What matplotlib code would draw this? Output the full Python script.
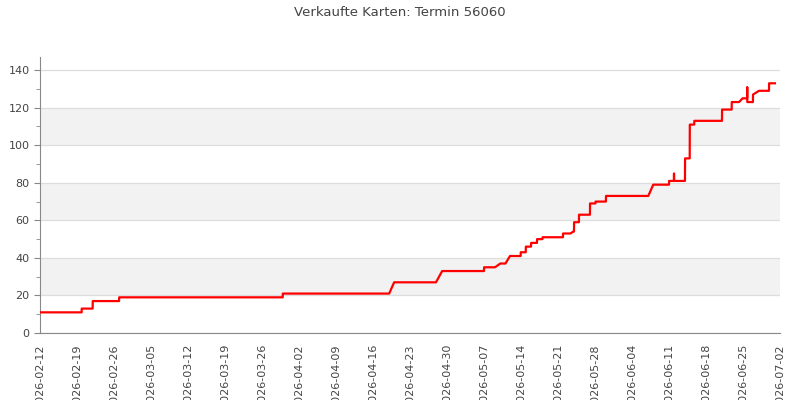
import numpy as np
import pandas as pd
import matplotlib
matplotlib.use("Agg")
import matplotlib.pyplot as plt
import matplotlib.dates as mdates
from matplotlib.ticker import MultipleLocator

TITLE = "Verkaufte Karten: Termin 56060"

# sample times and cumulative tickets sold
TIMES = [
    "2026-02-12 00:00", "2026-02-19 21:00", "2026-02-19 21:30",
    "2026-02-21 23:00", "2026-02-21 23:30", "2026-02-26 23:00",
    "2026-02-26 23:30", "2026-03-29 22:00", "2026-03-29 22:30",
    "2026-04-19 01:30", "2026-04-20 00:00", "2026-04-27 22:00",
    "2026-04-29 02:00", "2026-05-07 00:00", "2026-05-07 00:30",
    "2026-05-09 02:00", "2026-05-10 02:00", "2026-05-11 01:30",
    "2026-05-11 22:00", "2026-05-13 22:30", "2026-05-13 23:00",
    "2026-05-14 21:30", "2026-05-14 22:00", "2026-05-15 21:30",
    "2026-05-15 22:00", "2026-05-17 00:30", "2026-05-17 01:00",
    "2026-05-18 01:30", "2026-05-18 02:00", "2026-05-21 22:30",
    "2026-05-21 23:00", "2026-05-23 08:00", "2026-05-23 21:30",
    "2026-05-24 00:30", "2026-05-24 01:00", "2026-05-24 23:00",
    "2026-05-24 23:30", "2026-05-27 01:00", "2026-05-27 01:30",
    "2026-05-28 02:00", "2026-05-28 02:30", "2026-05-30 01:30",
    "2026-05-30 02:00", "2026-06-07 02:00", "2026-06-08 00:30",
    "2026-06-11 00:00", "2026-06-11 00:30", "2026-06-11 22:30",
    "2026-06-11 22:45", "2026-06-11 23:00", "2026-06-14 00:30",
    "2026-06-14 01:00", "2026-06-14 22:00", "2026-06-14 22:30",
    "2026-06-15 18:30", "2026-06-15 19:00", "2026-06-21 00:30",
    "2026-06-21 01:00", "2026-06-22 20:30", "2026-06-22 21:00",
    "2026-06-24 06:00", "2026-06-24 22:30", "2026-06-25 19:00",
    "2026-06-25 19:15", "2026-06-25 19:30", "2026-06-26 21:00",
    "2026-06-26 21:30", "2026-06-28 00:30", "2026-06-29 22:00",
    "2026-06-29 22:30", "2026-07-01 01:00",
]
SOLD = [
    11, 11, 13,
    13, 17, 17,
    19, 19, 21,
    21, 27, 27,
    33, 33, 35,
    35, 37, 37,
    41, 41, 43,
    43, 46, 46,
    48, 48, 50,
    50, 51, 51,
    53, 53, 54,
    54, 59, 59,
    63, 63, 69,
    69, 70, 70,
    73, 73, 79,
    79, 81, 81,
    85, 81, 81,
    93, 93, 111,
    111, 113, 113,
    119, 119, 123,
    123, 125, 125,
    131, 123, 123,
    127, 129, 129,
    133, 133,
]

Y_TICKS = [0, 20, 40, 60, 80, 100, 120, 140]

times = pd.to_datetime(TIMES)

fig = plt.figure(figsize=(8, 4), dpi=100)
ax = fig.add_axes([0.05, 0.1675, 0.925, 0.69])

# alternating bands
for i, lo in enumerate(Y_TICKS[:-1]):
    if i % 2 == 1:
        ax.axhspan(lo, Y_TICKS[i + 1], color="#f2f2f2", lw=0, zorder=0)
for yv in Y_TICKS:
    ax.axhline(yv, color="#dddddd", lw=0.9, zorder=1)

ax.plot(times, SOLD, color="red", lw=1.6, zorder=3)

ax.set_xlim(pd.Timestamp("2026-02-12"), pd.Timestamp("2026-07-02"))
ax.set_ylim(0, 147)
ax.set_yticks(Y_TICKS)
ax.yaxis.set_minor_locator(MultipleLocator(10))
ax.set_xticks(pd.date_range("2026-02-12", "2026-07-02", freq="7D"))
ax.xaxis.set_major_formatter(mdates.DateFormatter("%Y-%m-%d"))
plt.setp(ax.get_xticklabels(), rotation=90, ha="center", va="top")

for s in ["top", "right"]:
    ax.spines[s].set_visible(False)
for s in ["left", "bottom"]:
    ax.spines[s].set_color("#888888")
ax.tick_params(axis="both", which="both", colors="#888888", labelcolor="#444444",
               labelsize=8, direction="out")
ax.tick_params(axis="y", which="major", length=4)
ax.tick_params(axis="y", which="minor", length=3)
ax.tick_params(axis="x", which="major", length=0, pad=8)

fig.suptitle(TITLE, x=0.5, y=0.985, fontsize=9.5, color="#444444")

fig.savefig("out.png", dpi=100)
